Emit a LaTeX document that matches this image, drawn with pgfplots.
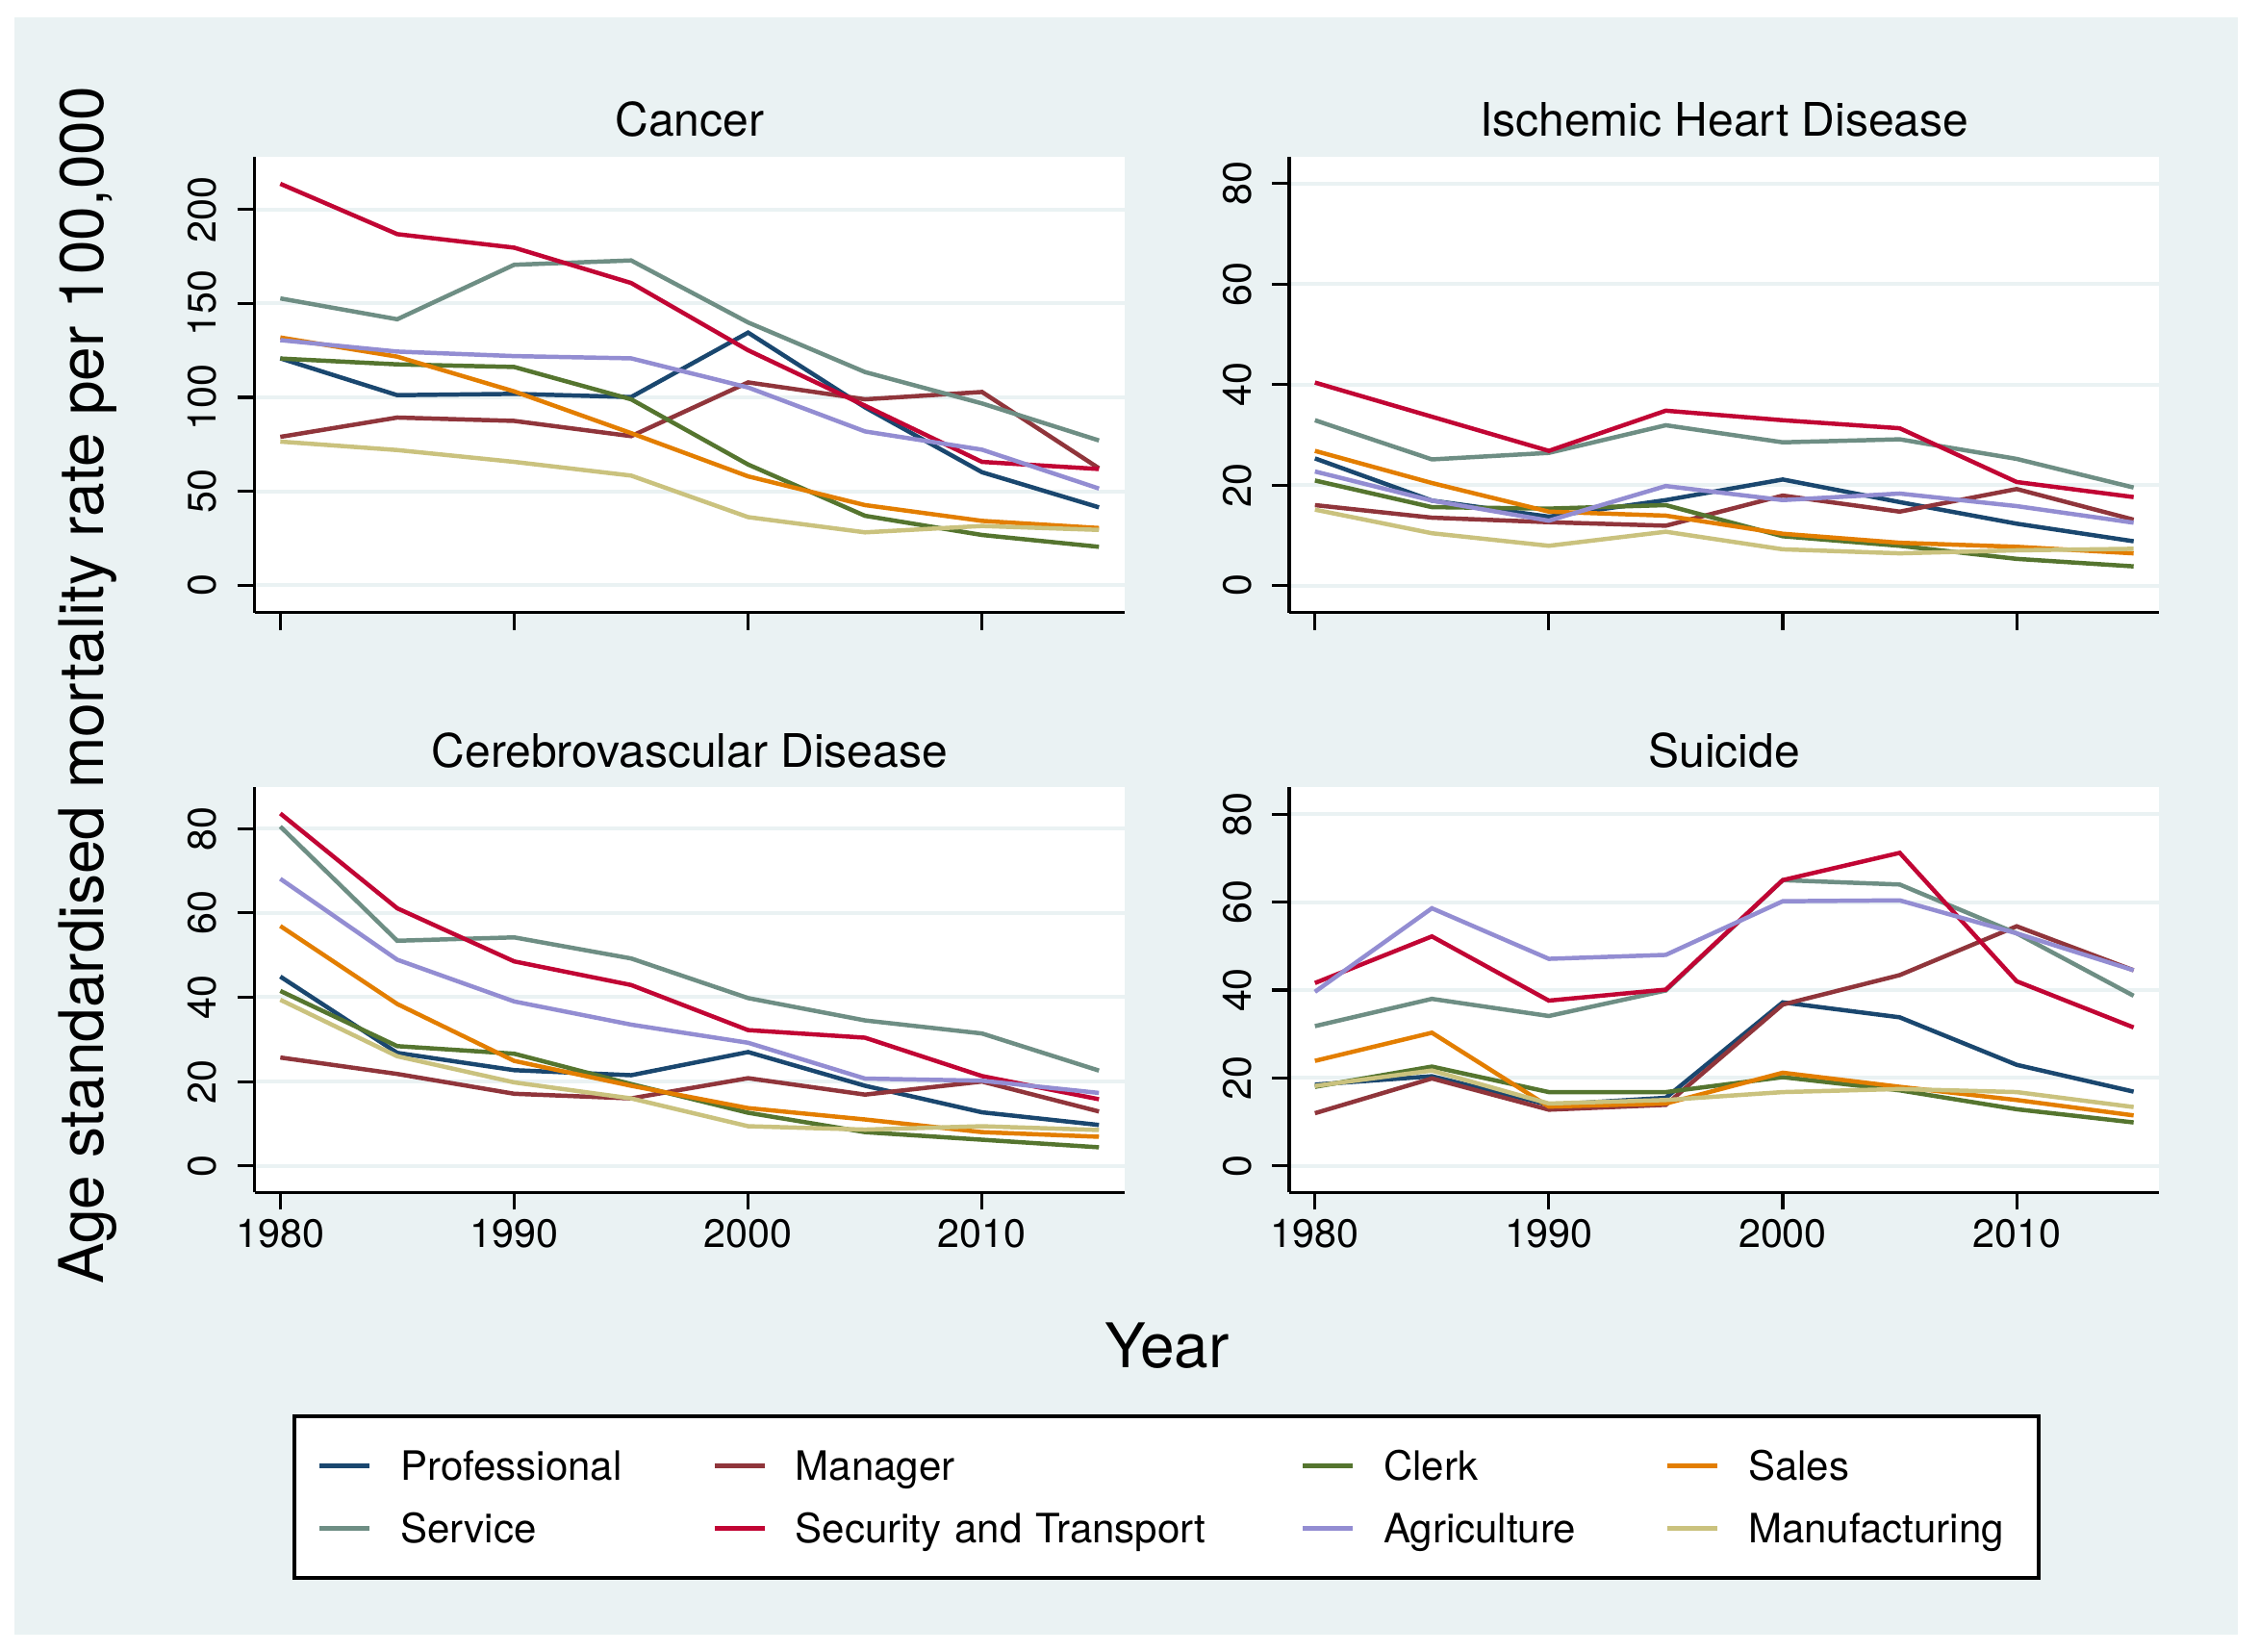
\documentclass[border=0pt]{standalone}
\usepackage{pgfplots}
\pgfplotsset{compat=1.18}
\usepackage{pgfplotstable}
\usepackage{fontspec}
\setmainfont{TeX Gyre Heros}
\definecolor{bgblue}{RGB}{234,242,243}
\definecolor{cnavy}{RGB}{26,71,111}
\definecolor{cmaroon}{RGB}{144,53,59}
\definecolor{cgreen}{RGB}{85,117,47}
\definecolor{corange}{RGB}{227,126,0}
\definecolor{cteal}{RGB}{110,142,132}
\definecolor{ccran}{RGB}{193,5,52}
\definecolor{clav}{RGB}{147,141,210}
\definecolor{ckhaki}{RGB}{202,194,126}

\pgfplotstableread{
year prof man clerk sales serv sec agri manu
1980 120.8 79.0 120.7 131.9 152.7 213.7 130.5 76.5
1985 101.2 89.3 117.6 121.7 141.6 186.9 124.4 72.0
1990 101.9 87.5 116.2 103.2 170.6 179.7 122.0 65.7
1995 100.2 79.4 99.0 81.0 172.9 160.9 120.8 58.4
2000 134.5 108.0 64.3 58.0 139.9 125.1 105.3 36.3
2005 94.7 99.0 37.0 42.7 113.5 95.6 81.9 28.2
2010 60.2 102.9 26.8 34.3 96.8 65.7 72.2 31.6
2015 41.5 62.3 20.5 30.5 77.1 61.9 51.5 29.5
}\cancer
\pgfplotstableread{
year prof man clerk sales serv sec agri manu
1980 25.3 16.0 20.9 26.8 32.9 40.4 22.7 15.1
1985 16.9 13.5 15.6 20.4 25.1 33.6 16.9 10.4
1990 13.7 12.6 15.3 14.7 26.4 26.8 12.9 7.9
1995 17.0 11.9 16.0 13.9 31.9 34.8 19.8 10.7
2000 21.1 17.9 9.8 10.3 28.5 32.9 17.0 7.2
2005 16.6 14.7 7.9 8.5 29.1 31.3 18.3 6.4
2010 12.3 19.2 5.3 7.7 25.2 20.6 15.8 7.0
2015 8.8 13.1 3.8 6.4 19.5 17.6 12.5 7.3
}\ihd
\pgfplotstableread{
year prof man clerk sales serv sec agri manu
1980 44.9 25.7 41.5 56.9 80.5 83.6 68.1 39.4
1985 26.8 21.8 28.4 38.4 53.4 61.1 48.9 26.0
1990 22.7 17.1 26.6 24.9 54.2 48.5 39.0 19.8
1995 21.5 16.0 19.4 19.0 49.2 42.9 33.5 16.0
2000 27.0 20.8 12.6 13.7 39.8 32.2 29.2 9.4
2005 19.0 16.9 8.0 11.0 34.5 30.4 20.7 8.6
2010 12.7 20.0 6.2 8.0 31.4 21.3 20.2 9.4
2015 9.7 12.9 4.4 6.9 22.6 15.8 17.3 8.5
}\cvd
\pgfplotstableread{
year prof man clerk sales serv sec agri manu
1980 18.5 12.0 18.0 23.9 31.8 41.6 39.6 18.2
1985 20.4 19.9 22.6 30.3 38.0 52.2 58.6 21.7
1990 13.9 12.8 16.8 13.5 34.1 37.6 47.1 14.2
1995 15.5 13.9 16.8 14.2 39.9 40.1 48.0 15.0
2000 37.2 36.7 20.2 21.2 65.0 65.0 60.2 16.8
2005 33.8 43.4 17.2 18.0 64.0 71.2 60.4 17.5
2010 23.0 54.5 12.9 15.0 52.9 42.0 52.9 16.8
2015 16.9 44.5 9.9 11.5 38.7 31.5 44.5 13.4
}\suic

\pgfplotsset{
  panel/.style={
    scale only axis, width=226.1pt,
    xmin=1978.9, xmax=2016.1,
    axis lines=left, axis line style={-, line width=0.8pt, black},
    tick align=outside, major tick length=4.5pt,
    tick style={line width=0.8pt, black},
    xtick={1980,1990,2000,2010},
    ymajorgrids, major grid style={line width=1pt, color=bgblue},
    axis background/.style={fill=white},
    every axis plot/.append style={line width=1.12pt, mark=none},
    every axis title/.style={at={(0.5,1)}, anchor=base, yshift=5.2pt, font=\fontsize{12}{14}\selectfont},
    tick label style={font=\fontsize{10.3}{12}\selectfont},
    /pgf/number format/assume math mode=true,
    /pgf/number format/1000 sep={},
    xticklabel style={anchor=base, yshift=-9.7pt},
    yticklabel style={xshift=-5.4pt, rotate=90, anchor=base},
    clip=false,
  },
  upper/.style={panel, height=118.5pt, xticklabels={}},
  lower/.style={panel, height=105.25pt},
}
\newcommand{\allplots}[1]{%
  \addplot[cnavy] table[x=year,y=prof] {#1};
  \addplot[cmaroon] table[x=year,y=man] {#1};
  \addplot[cgreen] table[x=year,y=clerk] {#1};
  \addplot[corange] table[x=year,y=sales] {#1};
  \addplot[cteal] table[x=year,y=serv] {#1};
  \addplot[ccran] table[x=year,y=sec] {#1};
  \addplot[clav] table[x=year,y=agri] {#1};
  \addplot[ckhaki] table[x=year,y=manu] {#1};
}

\begin{document}
\begin{tikzpicture}
\useasboundingbox (0,0) rectangle (587pt,429pt);
\fill[white] (0,0) rectangle (587pt,429pt);
\fill[bgblue] (3.75pt,4.25pt) rectangle (581.5pt,424.5pt);
\filldraw[fill=white, draw=black, line width=1.1pt] (76.5pt,19pt) rectangle (529.75pt,61.075pt);

\begin{axis}[upper, at={(66.15pt,388.325pt)}, anchor=north west,
  ymin=-14.5, ymax=228.2, ytick={0,50,100,150,200}, title={Cancer}]
\allplots{\cancer}
\end{axis}

\begin{axis}[upper, at={(335pt,388.325pt)}, anchor=north west,
  ymin=-5.4, ymax=85.4, ytick={0,20,40,60,80}, title={Ischemic Heart Disease}]
\allplots{\ihd}
\end{axis}

\begin{axis}[lower, at={(66.15pt,224.425pt)}, anchor=north west,
  ymin=-6.3, ymax=89.8, ytick={0,20,40,60,80}, title={Cerebrovascular Disease},
  legend columns=4,
  legend image code/.code={\draw[#1, line width=1.2pt] (0pt,3.65pt) -- (13pt,3.65pt);},
  legend style={at={(0.0723,-0.6342)}, anchor=north west, draw=none, fill=none,
    inner sep=0pt, outer sep=0pt,
    cells={anchor=base west},
    nodes={inner sep=0pt, text height=8pt, text depth=2.5pt, font=\fontsize{10.5}{12}\selectfont},
    column sep=0pt, row sep=5.75pt,
    /tikz/every odd column/.append style={column sep=7.4pt},
    /tikz/column 2/.append style={nodes={text width=81pt}},
    /tikz/column 4/.append style={nodes={text width=131.25pt}},
    /tikz/column 6/.append style={nodes={text width=73.15pt}},
    /tikz/column 8/.append style={nodes={text width=70pt}},
  },
  legend entries={Professional, Manager, Clerk, Sales, Service, Security and Transport, Agriculture, Manufacturing}]
\allplots{\cvd}
\end{axis}

\begin{axis}[lower, at={(335pt,224.425pt)}, anchor=north west,
  ymin=-6.0, ymax=86.1, ytick={0,20,40,60,80}, title={Suicide}]
\allplots{\suic}
\end{axis}

\node[rotate=90, anchor=base, font=\fontsize{16}{19}\selectfont] at (27pt,250.875pt) {Age standardised mortality rate per 100,000};
\node[anchor=base, font=\fontsize{16}{19}\selectfont] at (303.25pt,73.75pt) {Year};
\end{tikzpicture}
\end{document}
